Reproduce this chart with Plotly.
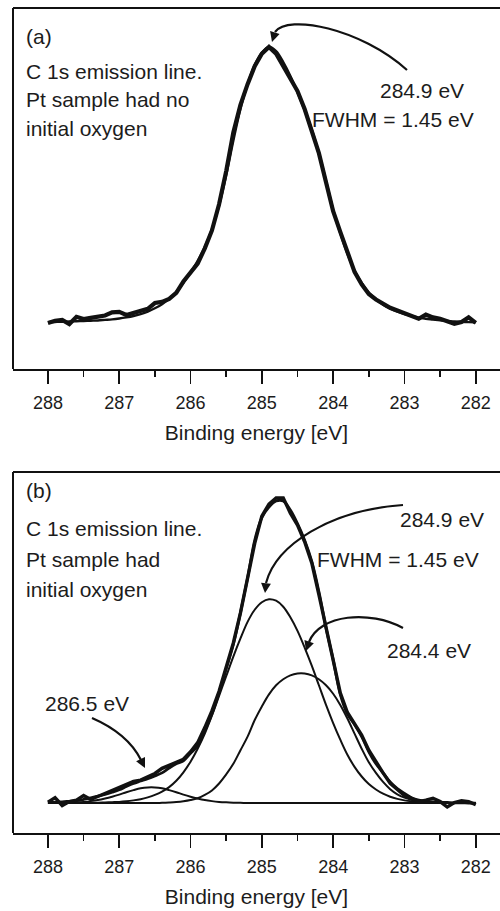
import plotly.graph_objects as go

# ---------------- data ----------------
energy = [288.0, 287.9, 287.8, 287.7, 287.6, 287.5, 287.4, 287.3, 287.2, 287.1,
          287.0, 286.9, 286.8, 286.7, 286.6, 286.5, 286.4, 286.3, 286.2, 286.1,
          286.0, 285.9, 285.8, 285.7, 285.6, 285.5, 285.4, 285.3, 285.2, 285.1,
          285.0, 284.9, 284.8, 284.7, 284.6, 284.5, 284.4, 284.3, 284.2, 284.1,
          284.0, 283.9, 283.8, 283.7, 283.6, 283.5, 283.4, 283.3, 283.2, 283.1,
          283.0, 282.9, 282.8, 282.7, 282.6, 282.5, 282.4, 282.3, 282.2, 282.1,
          282.0]

# panel (a): measured spectrum and fitted peak (284.9 eV)
a_measured = [0.0, 0.8, 1.1, -0.4, 2.2, 1.4, 1.8, 2.2, 2.7, 3.8,
              4.0, 2.9, 3.6, 4.3, 5.1, 7.2, 7.6, 8.7, 10.9, 15.0,
              18.5, 21.5, 27.0, 33.5, 43.0, 55.0, 69.0, 79.0, 86.5, 93.0,
              97.5, 100.0, 97.5, 93.0, 89.0, 84.0, 77.5, 70.0, 61.5, 51.0,
              40.5, 33.0, 26.0, 18.5, 14.0, 10.5, 8.5, 7.0, 5.5, 4.5,
              3.6, 2.5, 1.5, 3.0, 2.0, 1.5, 0.5, -0.3, 0.3, 2.0,
              0.0]
a_fit = [0.3, 0.35, 0.4, 0.5, 0.6, 0.7, 0.8, 0.9, 1.1, 1.3,
         1.6, 2.0, 2.5, 3.2, 4.1, 5.3, 6.8, 8.8, 11.3, 14.5,
         18.3, 22.5, 27.5, 34.0, 42.5, 53.5, 66.0, 77.5, 86.5, 93.5,
         98.0, 100.0, 98.5, 94.5, 89.5, 83.5, 77.0, 70.0, 61.5, 51.5,
         41.0, 32.5, 25.0, 19.0, 14.5, 11.0, 8.5, 6.6, 5.2, 4.1,
         3.2, 2.5, 1.9, 1.5, 1.2, 0.9, 0.7, 0.5, 0.4, 0.3,
         0.2]

# panel (b): measured spectrum, fit envelope and three components
b_measured = [0.3, 1.8, -0.8, 0.5, 1.0, 2.5, 1.2, 2.2, 3.0, 4.2,
              5.0, 6.0, 7.2, 7.6, 8.8, 9.8, 11.5, 12.5, 13.5, 14.5,
              17.0, 20.0, 25.0, 30.5, 37.0, 45.0, 53.0, 63.0, 74.0, 86.0,
              95.0, 99.0, 101.0, 101.0, 96.0, 92.0, 86.5, 79.5, 69.0, 58.5,
              47.0, 36.5, 30.0, 26.5, 22.5, 17.5, 13.5, 10.0, 6.5, 4.5,
              2.5, 1.5, 0.5, 1.0, 1.6, 0.5, -1.3, 0.2, 0.8, 0.5,
              -0.5]
b_envelope = [0.2, 0.3, 0.4, 0.6, 0.8, 1.2, 1.7, 2.3, 2.9, 3.6,
              4.4, 5.5, 6.5, 7.3, 8.1, 9.0, 10.0, 11.6, 13.0, 14.0,
              16.5, 19.0, 24.0, 29.5, 36.5, 44.5, 52.5, 63.0, 74.5, 87.0,
              94.5, 98.0, 100.0, 100.0, 97.0, 92.5, 87.0, 80.0, 70.0, 58.0,
              47.5, 36.0, 29.5, 26.0, 22.0, 17.0, 13.0, 10.0, 7.0, 4.8,
              3.2, 1.8, 1.0, 0.6, 0.4, 0.3, 0.2, 0.1, 0.1, 0.0,
              0.0]
b_peak_2849 = [0.0, 0.0, 0.0, 0.0, 0.0, 0.1, 0.1, 0.1, 0.2, 0.3,
               0.4, 0.6, 0.9, 1.3, 1.9, 2.7, 3.8, 5.3, 7.4, 10.2,
               13.7, 18.0, 23.0, 29.0, 35.5, 42.0, 48.5, 54.5, 60.0, 64.0,
               66.5, 67.5, 67.0, 65.0, 61.5, 57.0, 51.5, 45.5, 39.0, 32.5,
               26.5, 21.0, 16.0, 12.0, 8.8, 6.3, 4.5, 3.1, 2.1, 1.4,
               0.9, 0.6, 0.4, 0.3, 0.2, 0.1, 0.1, 0.0, 0.0, 0.0,
               0.0]
b_peak_2844 = [0.0, 0.0, 0.0, 0.0, 0.0, 0.0, 0.0, 0.0, 0.0, 0.0,
               0.0, 0.0, 0.0, 0.0, 0.0, 0.0, 0.1, 0.2, 0.35, 0.6,
               1.0, 1.6, 2.7, 4.2, 6.5, 9.5, 13.0, 17.5, 22.0, 27.5,
               32.0, 36.0, 39.0, 41.0, 42.3, 42.9, 42.9, 42.3, 41.0, 39.0,
               36.2, 32.5, 28.0, 23.0, 18.0, 13.5, 10.0, 7.0, 4.6, 2.9,
               1.8, 1.1, 0.6, 0.35, 0.2, 0.1, 0.0, 0.0, 0.0, 0.0,
               0.0]
b_peak_2865 = [0.0, 0.0, 0.1, 0.15, 0.25, 0.4, 0.65, 1.0, 1.5, 2.1,
               2.8, 3.6, 4.3, 4.9, 5.2, 5.2, 4.9, 4.3, 3.6, 2.8,
               2.1, 1.5, 1.0, 0.65, 0.4, 0.25, 0.15, 0.1, 0.0, 0.0,
               0.0, 0.0, 0.0, 0.0, 0.0, 0.0, 0.0, 0.0, 0.0, 0.0,
               0.0, 0.0, 0.0, 0.0, 0.0, 0.0, 0.0, 0.0, 0.0, 0.0,
               0.0, 0.0, 0.0, 0.0, 0.0, 0.0, 0.0, 0.0, 0.0, 0.0,
               0.0]

tick_values = [288, 287, 286, 285, 284, 283, 282]
tick_labels = ["288", "287", "286", "285", "284", "283", "282"]
axis_title = "Binding energy [eV]"

# ---------------- figure ----------------
W, H = 500, 911
ML, MR, MT, MB = 13, 0, 8, 78
PW, PH = W - ML - MR, H - MT - MB
FONT = "Liberation Sans, Arial, Helvetica, sans-serif"
INK = "#111111"
TXT = "#1c1c1c"


def P(px, py):
    """pixel position on the page -> paper coordinates"""
    return (px - ML) / PW, (H - MB - py) / PH


fig = go.Figure()

fig.add_trace(go.Scatter(x=energy, y=a_fit, mode="lines", xaxis="x", yaxis="y",
                         line=dict(color=INK, width=2.4, shape="spline"), showlegend=False))
fig.add_trace(go.Scatter(x=energy, y=a_measured, mode="lines", xaxis="x", yaxis="y",
                         line=dict(color=INK, width=4.2), showlegend=False))

for comp in (b_peak_2865, b_peak_2844, b_peak_2849):
    fig.add_trace(go.Scatter(x=energy, y=comp, mode="lines", xaxis="x2", yaxis="y2",
                             line=dict(color=INK, width=2.0, shape="spline"), showlegend=False))
fig.add_trace(go.Scatter(x=energy, y=b_envelope, mode="lines", xaxis="x2", yaxis="y2",
                         line=dict(color=INK, width=2.8, shape="spline"), showlegend=False))
fig.add_trace(go.Scatter(x=energy, y=b_measured, mode="lines", xaxis="x2", yaxis="y2",
                         line=dict(color=INK, width=3.4), showlegend=False))

top_dom = [P(0, 369)[1], 1.0]
bot_dom = [0.0, P(0, 472)[1]]

xcommon = dict(
    range=[288.49, 281.66], tickmode="array", tickvals=tick_values, ticktext=tick_labels,
    ticks="outside", ticklen=13, tickwidth=1.8, tickcolor=INK,
    minor=dict(dtick=0.5, tick0=282, ticks="outside", ticklen=6, tickwidth=1.8, tickcolor=INK,
               showgrid=False),
    showline=True, linecolor=INK, linewidth=2, mirror=False,
    showgrid=False, zeroline=False, showspikes=False,
    tickfont=dict(family=FONT, size=18, color=TXT),
    ticklabelstandoff=3,
    title=dict(text=axis_title, font=dict(family=FONT, size=21, color=TXT), standoff=14),
)
ycommon = dict(visible=False, showline=False, showgrid=False, zeroline=False,
               showticklabels=False, ticks="", mirror=False)

fig.update_layout(
    width=W, height=H, margin=dict(l=ML, r=MR, t=MT, b=MB, pad=0),
    paper_bgcolor="white", plot_bgcolor="white",
    dragmode=False, hovermode=False,
    xaxis=dict(domain=[0, 1], anchor="y", **xcommon),
    yaxis=dict(domain=top_dom, anchor="x", range=[-16.7, 114.1], **ycommon),
    xaxis2=dict(domain=[0, 1], anchor="y2", **xcommon),
    yaxis2=dict(domain=bot_dom, anchor="x2", range=[-9.9, 109.6], **ycommon),
)

# frame lines of both panels: top and left only (no right-hand frame in the original)
for dom in (top_dom, bot_dom):
    fig.add_shape(type="line", xref="paper", yref="paper", x0=0, x1=1.0,
                  y0=dom[1], y1=dom[1], line=dict(color=INK, width=2))
    fig.add_shape(type="line", xref="paper", yref="paper", x0=0, x1=0,
                  y0=dom[0], y1=dom[1], line=dict(color=INK, width=2))


# ---------------- annotations ----------------
def text(s, px, py, anchor="left"):
    x, y = P(px, py)
    fig.add_annotation(x=x, y=y, xref="paper", yref="paper", text=s, showarrow=False,
                       xanchor=anchor, yanchor="middle",
                       font=dict(family=FONT, size=21, color=TXT))


def curve(p0, c1, c2, p3, tip):
    pts = [P(*p) for p in (p0, c1, c2, p3)]
    path = "M {},{} C {},{} {},{} {},{}".format(*[v for p in pts for v in p])
    fig.add_shape(type="path", path=path, xref="paper", yref="paper",
                  line=dict(color=INK, width=2.2))
    tx, ty = P(*tip)
    fig.add_annotation(x=tx, y=ty, xref="paper", yref="paper", text="", showarrow=True,
                       ax=p3[0] - tip[0], ay=p3[1] - tip[1], axref="pixel", ayref="pixel",
                       arrowhead=2, arrowsize=1.1, arrowwidth=1.8, arrowcolor=INK, standoff=0)


# panel (a)
text("(a)", 24, 36)
text("C 1s emission line.", 24, 71)
text("Pt sample had no", 24, 99)
text("initial oxygen", 24, 128)
text("284.9 eV", 378, 91)
text("FWHM = 1.45 eV", 310, 120)
curve((407, 70), (360, 28), (288, 14), (275, 32), (272, 42))

# panel (b)
text("(b)", 24, 490)
text("C 1s emission line.", 24, 528)
text("Pt sample had", 24, 559)
text("initial oxygen", 24, 589)
text("284.9 eV", 398, 519)
text("FWHM = 1.45 eV", 315, 559)
text("284.4 eV", 385, 650)
text("286.5 eV", 43, 703)
curve((403, 505), (330, 510), (276, 545), (266, 583), (265, 593))
curve((403, 628), (370, 610), (320, 614), (309, 642), (306, 651))
curve((92, 718), (115, 728), (132, 742), (141, 760), (145, 768))

fig.write_html("out.html", config={"staticPlot": True, "displayModeBar": False})
